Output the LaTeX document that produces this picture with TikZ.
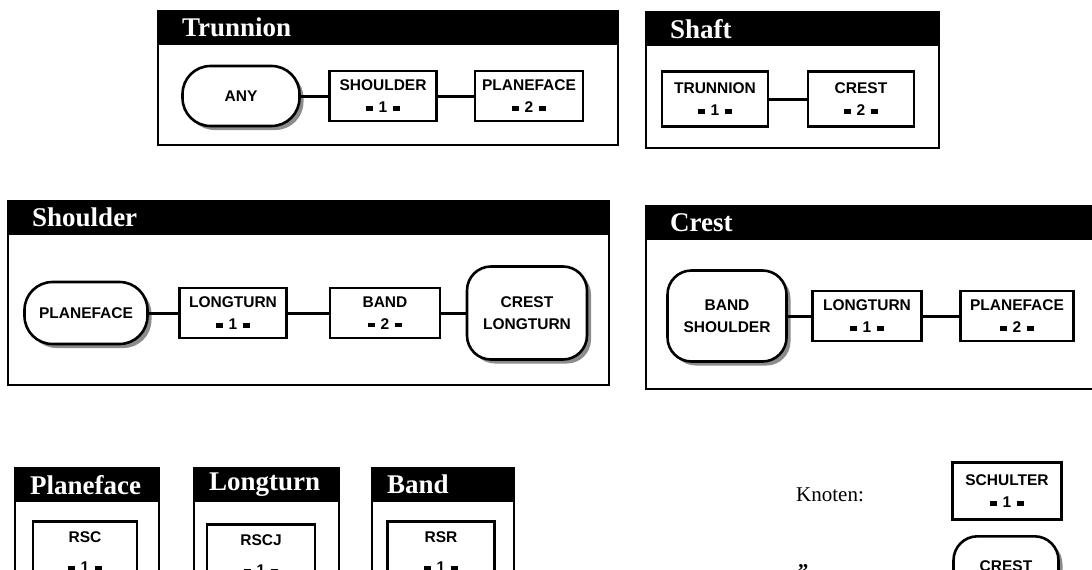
\documentclass[tikz,border=0pt]{standalone}
\usepackage{fontspec}
\setmainfont{Liberation Serif}
\newfontfamily\boxfont{Liberation Sans}
\usepackage{tikz}
\usetikzlibrary{shadows, positioning}
\newcommand{\nr}[1]{\rule[0.12em]{0.5em}{0.3em}\hspace{0.35em}#1\hspace{0.35em}\rule[0.12em]{0.5em}{0.3em}}
\tikzset{
  frame/.style={draw=black, line width=1.8pt, anchor=north west, inner sep=0pt},
  head/.style={fill=black, text=white, anchor=north west, align=left, minimum height=35pt, inner xsep=25pt, inner ysep=0pt, font=\bfseries\fontsize{27}{30}\selectfont},
  obj/.style={rectangle, draw=black, fill=white, line width=2.6pt, minimum height=50pt, align=center, inner sep=2pt, font=\boxfont\bfseries\fontsize{15.5}{22}\selectfont},
  any/.style={obj, rounded corners=24pt, drop shadow={shadow xshift=4pt, shadow yshift=-4pt, opacity=1, fill=black!45}},
  link/.style={line width=3pt}
}

\begin{document}
\begin{tikzpicture}[x=1pt, y=-1pt]
  \clip (0,0) rectangle (1092,570);
  % Trunnion
  \node[frame, minimum width=460pt, minimum height=134pt] (trunnionBox) at (157,10) {};
  \node[head, text width=410pt] (trunnionHead) at (157,10) {Trunnion};
  \node[any, rounded corners=28pt, minimum width=117pt, minimum height=60pt] (tAny) at (241,96) {ANY};
  \node[obj, minimum width=107pt] (tShoulder) at (383,96) {SHOULDER\\\nr{1}};
  \node[obj, minimum width=108pt] (tPlaneface) at (529,96) {PLANEFACE\\\nr{2}};
  \draw[link] (tAny) -- (tShoulder);
  \draw[link] (tShoulder) -- (tPlaneface);

  % Shaft
  \node[frame, minimum width=293pt, minimum height=136pt] (shaftBox) at (645,11) {};
  \node[head, text width=243pt] (shaftHead) at (645,11) {Shaft};
  \node[obj, minimum width=106pt, minimum height=55pt] (sTrunnion) at (715,99) {TRUNNION\\\nr{1}};
  \node[obj, minimum width=106pt, minimum height=55pt] (sCrest) at (861,99) {CREST\\\nr{2}};
  \draw[link] (sTrunnion) -- (sCrest);

  % Shoulder
  \node[frame, minimum width=601pt, minimum height=184pt] (shoulderBox) at (7,200) {};
  \node[head, text width=551pt] (shoulderHead) at (7,200) {Shoulder};
  \node[any, rounded corners=28pt, minimum width=123pt, minimum height=62pt] (shPlaneface) at (86,313) {PLANEFACE};
  \node[obj, minimum width=107pt] (shLongturn) at (233,313) {LONGTURN\\\nr{1}};
  \node[obj, minimum width=110pt] (shBand) at (385,313) {BAND\\\nr{2}};
  \node[any, minimum width=120pt, minimum height=93pt] (shCrest) at (527,313) {CREST\\LONGTURN};
  \draw[link] (shPlaneface) -- (shLongturn);
  \draw[link] (shLongturn) -- (shBand);
  \draw[link] (shBand) -- (shCrest);

  % Crest
  \node[frame, minimum width=470pt, minimum height=183pt] (crestBox) at (645,205) {};
  \node[head, text width=420pt] (crestHead) at (645,205) {Crest};
  \node[any, minimum width=119pt, minimum height=91pt] (cBand) at (727,316) {BAND\\SHOULDER};
  \node[obj, minimum width=109pt] (cLongturn) at (867,316) {LONGTURN\\\nr{1}};
  \node[obj, minimum width=113pt] (cPlaneface) at (1017,316) {PLANEFACE\\\nr{2}};
  \draw[link] (cBand) -- (cLongturn);
  \draw[link] (cLongturn) -- (cPlaneface);

  % Planeface, Longturn, Band
  \node[frame, minimum width=144pt, minimum height=140pt] (planefaceBox) at (14,467) {};
  \node[head, inner xsep=16pt, text width=112pt] (planefaceHead) at (14,467) {Planeface};
  \node[obj, anchor=north, minimum width=104pt, minimum height=62pt] (pRsc) at (85,520) {RSC\\[8pt]\nr{1}};
  \node[frame, minimum width=145pt, minimum height=140pt] (longturnBox) at (193,467) {};
  \node[head, inner xsep=16pt, text width=113pt] (longturnHead) at (193,467) {Longturn};
  \node[obj, anchor=north, minimum width=108pt, minimum height=62pt] (lRscj) at (261,523) {RSCJ\\[8pt]\nr{1}};
  \node[frame, minimum width=142pt, minimum height=140pt] (bandBox) at (371,467) {};
  \node[head, inner xsep=16pt, text width=110pt] (bandHead) at (371,467) {Band};
  \node[obj, anchor=north, minimum width=107pt, minimum height=62pt] (bRsr) at (441,520) {RSR\\[8pt]\nr{1}};

  % Knoten
  \node[font=\fontsize{21}{24}\selectfont] (knoten) at (830,495) {Knoten:};
  \node[obj, minimum width=109pt, minimum height=57pt] (kSchulter) at (1007,491) {SCHULTER\\\nr{1}};
  \node[any, anchor=north, minimum width=105pt, minimum height=60pt] (kCrest) at (1006,535) {CREST};
  \node[font=\bfseries\fontsize{21}{24}\selectfont] (ditto) at (803,572) {"};
\end{tikzpicture}
\end{document}
